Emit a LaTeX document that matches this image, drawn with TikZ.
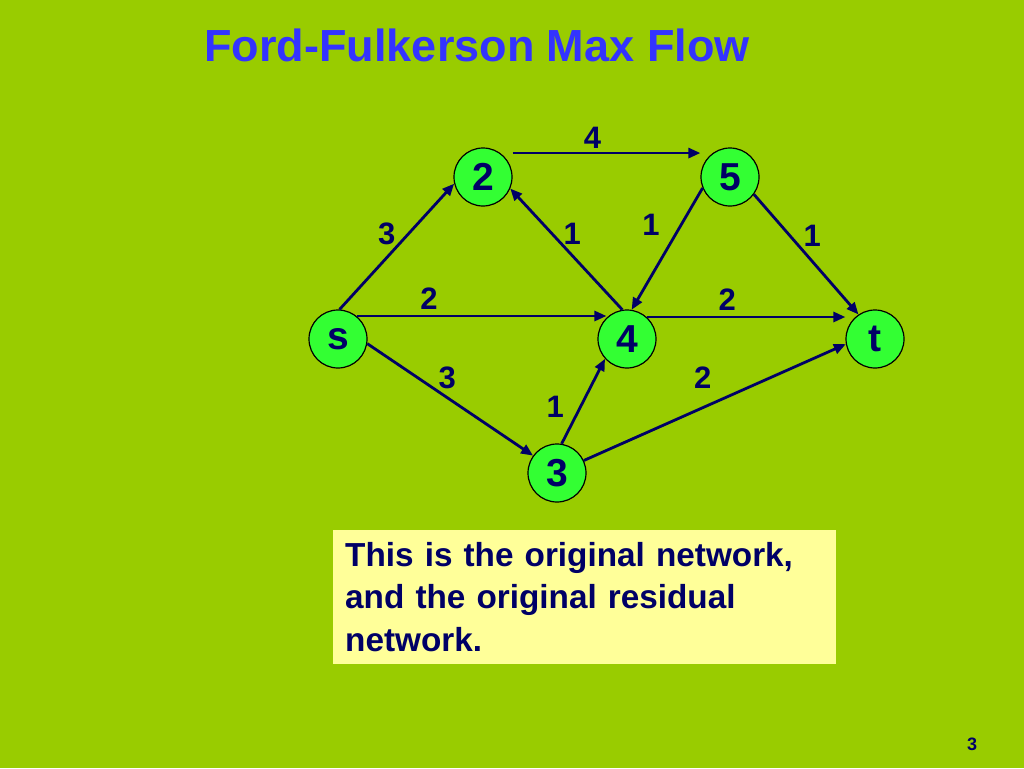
\documentclass[tikz,border=0pt]{standalone}
\usepackage{fontspec}
\setmainfont{Liberation Sans}
\usetikzlibrary{arrows.meta}
\definecolor{slidegreen}{HTML}{99CC00}
\definecolor{nodegreen}{HTML}{33FF33}
\definecolor{navy}{HTML}{000066}
\definecolor{titleblue}{HTML}{3333FF}
\definecolor{notefill}{HTML}{FFFF99}

\begin{document}
\begin{tikzpicture}[x=1pt,y=-1pt,
    vertex/.style={circle,draw=black,line width=1.2pt,fill=nodegreen,minimum size=58pt,inner sep=0pt,text=navy,font=\bfseries\fontsize{39}{39}\selectfont},
    flow/.style={draw=navy,line width=2.8pt,-{Triangle[length=12pt,width=10pt]}},
    caplabel/.style={text=navy,font=\bfseries\fontsize{31}{31}\selectfont,inner sep=0pt}]
    \useasboundingbox (0,0) rectangle (1024,768);
    \fill [slidegreen](0,0) rectangle (1024,768);

    \node [text=titleblue,font=\bfseries\fontsize{45}{54}\selectfont] (title) at (477,45) {Ford-Fulkerson Max Flow};

    \node [vertex] (v2) at (483,177) {2};
    \node [vertex] (v5) at (730,177) {5};
    \node [vertex] (s) at (338,339) {s};
    \node [vertex] (v4) at (627,339) {4};
    \node [vertex] (t) at (875,339) {t};
    \node [vertex] (v3) at (557,473) {3};

    \draw [flow](s.87) -- (v2.193) node[caplabel,midway,xshift=-10pt,yshift=13pt] (w2s) {3};
    \draw [flow](v2.east |- v2.54) -- (v5.west |- v2.54) node[caplabel,midway,xshift=-14pt,yshift=15pt] (w25) {4};
    \draw [flow](v4.99) -- (v2.337) node[caplabel,midway,xshift=6pt,yshift=15pt] (w42) {1};
    \draw [flow](v5.202) -- (v4.81) node[caplabel,midway,xshift=-16pt,yshift=24pt] (w54) {1};
    \draw [flow](v5.324) -- (t.124) node[caplabel,midway,xshift=6pt,yshift=19pt] (w5t) {1};
    \draw [flow](s.51) -- (v4.134 |- s.51) node[caplabel,pos=0.29,yshift=17pt] (ws4) {2};
    \draw [flow](v4.48) -- (t.west |- v4.48) node[caplabel,pos=0.405,yshift=17pt] (w4t) {2};
    \draw [flow](s.351) -- (v3.144) node[caplabel,midway,xshift=-3pt,yshift=22pt] (ws3) {3};
    \draw [flow](v3.81) -- (v4.222) node[caplabel,midway,xshift=-28pt,yshift=-6pt] (w34) {1};
    \draw [flow](v3.25) -- (t.190) node[caplabel,midway,xshift=-12pt,yshift=25pt] (w3t) {2};

    \node [anchor=north west,fill=notefill,minimum width=503pt,minimum height=132pt,text width=479pt,inner xsep=12pt,inner ysep=12pt,align=left,text=navy,font=\bfseries\fontsize{33.3}{42.5}\selectfont] (note) at (333,530) {This is the original network,\\and the original residual\\network.};

    \node [text=navy,font=\bfseries\fontsize{18}{18}\selectfont] (page) at (972,744) {3};
\end{tikzpicture}
\end{document}
